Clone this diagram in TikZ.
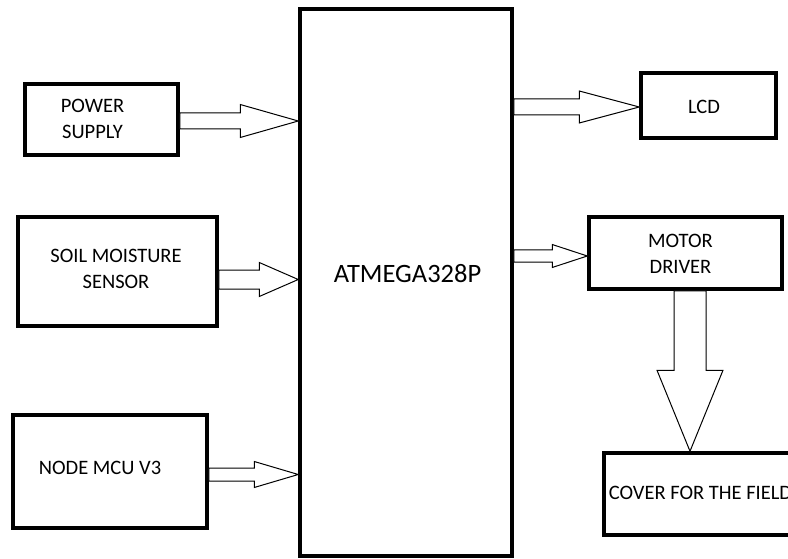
\documentclass[tikz,border=0pt]{standalone}
\usepackage{fontspec}
\setmainfont{Carlito}
\usetikzlibrary{calc}

% hollow block arrow: start, end, shaft half width, head half width, head length
\newcommand{\bigarrow}[5]{%
  \draw[hollow] let \p1=(#1), \p2=(#2),
    \n1={atan2(\y2-\y1,\x2-\x1)}, \n2={veclen(\x2-\x1,\y2-\y1)} in
    [shift={(\p1)}, rotate=\n1]
    (0pt,#3pt) -- ({\n2-#5pt},#3pt) -- ({\n2-#5pt},#4pt) -- ({\n2+0pt},0pt)
    -- ({\n2-#5pt},-#4pt) -- ({\n2-#5pt},-#3pt) -- (0pt,-#3pt) -- cycle;
}

\begin{document}
\begin{tikzpicture}[x=1pt, y=-1pt,
    box/.style={rectangle, draw, line width=3.5pt, inner sep=0pt},
    hollow/.style={draw=black, fill=white, line width=1pt, line join=miter},
    every label/.style={font=\fontsize{20.5}{26}\selectfont, align=center, inner sep=0pt}
]
    \clip (0,0) rectangle (788,559);

    % Inputs
    \node[box, minimum width=153, minimum height=71,
          label={[xshift=-9pt, yshift=0.5pt]center:{POWER\\SUPPLY}}] (power) at (101.5,119.5) {};
    \node[box, minimum width=199, minimum height=109,
          label={[xshift=-1.5pt, yshift=2.5pt]center:{SOIL MOISTURE\\SENSOR}}] (soil) at (117.5,271.5) {};
    \node[box, minimum width=194, minimum height=113,
          label={[xshift=-10pt, yshift=3.5pt]center:{NODE MCU V3}}] (mcu) at (110,471.5) {};

    % Controller
    \node[box, minimum width=212, minimum height=547,
          label={[xshift=1.5pt, yshift=8.5pt, font=\fontsize{26.5}{30}\selectfont]center:{ATMEGA328P}}] (atmega) at (406,282.5) {};

    % Outputs
    \node[box, minimum width=135, minimum height=65,
          label={[xshift=-4.5pt, yshift=-1.5pt]center:{LCD}}] (lcd) at (708.5,105.5) {};
    \node[box, minimum width=193, minimum height=72,
          label={[xshift=-5pt, yshift=-0.5pt]center:{MOTOR\\DRIVER}}] (motor) at (685.5,253) {};
    \node[box, minimum width=196, minimum height=82,
          label={[xshift=-1.5pt, yshift=1pt]center:{COVER FOR THE FIELD}}] (cover) at (702,494) {};

    % Arrow ends
    \coordinate (pwrout) at ($(power.east)+(0,1.5)$);
    \coordinate (soilout) at ($(soil.east)+(0,8)$);
    \coordinate (mcuout) at ($(mcu.east)+(0,3)$);
    \coordinate (lcdin) at ($(lcd.west)+(0,1.5)$);
    \coordinate (motorin) at ($(motor.west)+(0,3)$);
    \coordinate (motorout) at ($(motor.south)+(4.5,0)$);

    % Arrows
    \bigarrow{pwrout}{atmega.west |- pwrout}{8}{16.5}{58}
    \bigarrow{soilout}{atmega.west |- soilout}{9.5}{17}{39}
    \bigarrow{mcuout}{atmega.west |- mcuout}{6.5}{13}{44}
    \bigarrow{atmega.east |- lcdin}{lcdin}{8}{16}{60}
    \bigarrow{atmega.east |- motorin}{motorin}{6}{11.5}{35}
    \bigarrow{motorout}{motorout |- cover.north}{16}{33}{81}

\end{tikzpicture}
\end{document}
